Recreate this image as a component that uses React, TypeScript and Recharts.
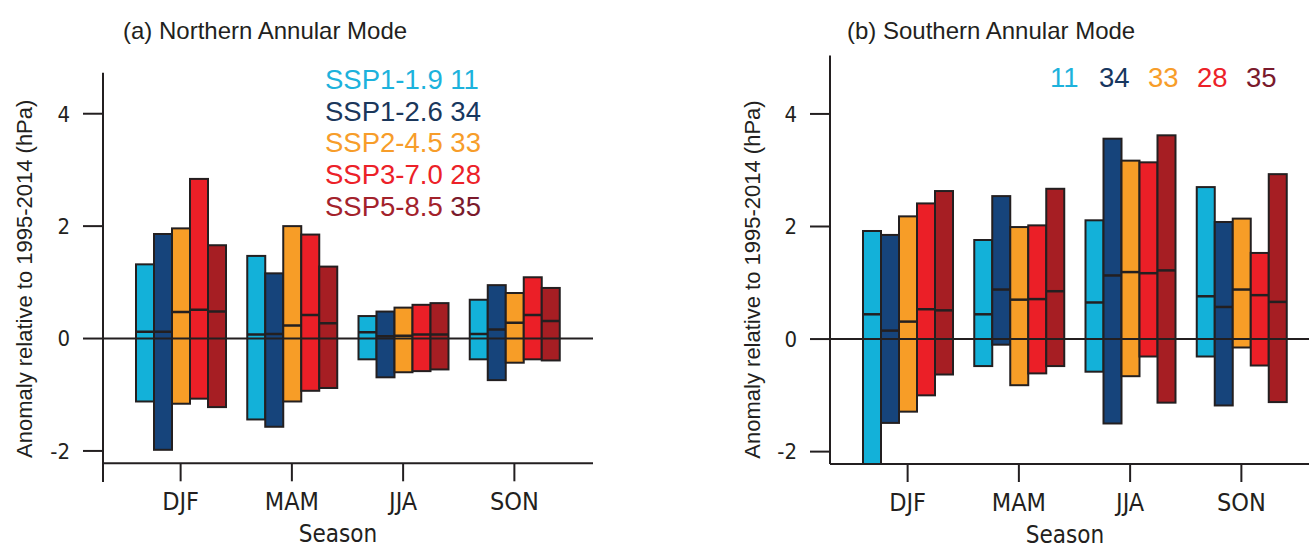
import { BarChart, Bar, XAxis, YAxis, ReferenceLine, Label } from "recharts";

const seasons = ["DJF", "MAM", "JJA", "SON"];
const scenarios = ["SSP1-1.9", "SSP1-2.6", "SSP2-4.5", "SSP3-7.0", "SSP5-8.5"];
const modelCounts = [11, 34, 33, 28, 35];
const yTicks = [-2, 0, 2, 4];

const barColors = ["#13B1D9", "#16447B", "#F79D27", "#EB1F27", "#A61E23"];
const nameColors = ["#1DB2DC", "#1B375B", "#F79D2A", "#EC2128", "#A3222B"];
const countColors = ["#1DB2DC", "#17375F", "#F79D2A", "#EC2128", "#7A1A2C"];

// rows = scenario, columns = season (DJF, MAM, JJA, SON)
const namMin = [
  [-1.12, -1.44, -0.37, -0.37],
  [-1.98, -1.57, -0.69, -0.74],
  [-1.16, -1.12, -0.6, -0.43],
  [-1.07, -0.93, -0.58, -0.37],
  [-1.22, -0.88, -0.55, -0.39],
];
const namMedian = [
  [0.12, 0.07, 0.11, 0.08],
  [0.12, 0.08, 0.04, 0.16],
  [0.47, 0.23, 0.05, 0.28],
  [0.51, 0.42, 0.07, 0.42],
  [0.48, 0.27, 0.07, 0.31],
];
const namMax = [
  [1.32, 1.47, 0.4, 0.69],
  [1.86, 1.16, 0.48, 0.95],
  [1.96, 2.0, 0.55, 0.81],
  [2.84, 1.85, 0.6, 1.09],
  [1.66, 1.28, 0.63, 0.9],
];

const samMin = [
  [-2.3, -0.48, -0.58, -0.31],
  [-1.49, -0.1, -1.5, -1.18],
  [-1.29, -0.82, -0.66, -0.15],
  [-1.0, -0.61, -0.31, -0.47],
  [-0.63, -0.48, -1.13, -1.12],
];
const samMedian = [
  [0.44, 0.44, 0.65, 0.76],
  [0.15, 0.88, 1.13, 0.57],
  [0.31, 0.7, 1.19, 0.88],
  [0.53, 0.71, 1.17, 0.78],
  [0.51, 0.85, 1.22, 0.66],
];
const samMax = [
  [1.92, 1.76, 2.11, 2.7],
  [1.85, 2.54, 3.56, 2.08],
  [2.18, 1.99, 3.17, 2.14],
  [2.41, 2.02, 3.14, 1.53],
  [2.63, 2.67, 3.62, 2.93],
];

const ink = "#231F20";
const sansFont = "'Liberation Sans', Arial, Helvetica, sans-serif";
const narrowFont = "'Liberation Sans Narrow', 'Arial Narrow', 'DejaVu Sans Condensed', sans-serif";

function buildRows(lo: number[][], med: number[][], hi: number[][]) {
  return seasons.map((season, j) => {
    const row: any = { season };
    scenarios.forEach((_, k) => {
      row[`r${k}`] = [lo[k][j], hi[k][j]];
      row[`m${k}`] = med[k][j];
    });
    return row;
  });
}

const namRows = buildRows(namMin, namMedian, namMax);
const samRows = buildRows(samMin, samMedian, samMax);

// floating box with the ensemble median drawn across it
function RangeBox(props: any) {
  const { x, y, width, height, fill, payload, k } = props;
  const [lo, hi] = payload[`r${k}`];
  const med = payload[`m${k}`];
  const top = Math.min(y, y + height);
  const h = Math.abs(height);
  const my = top + (h * (hi - med)) / (hi - lo);
  return (
    <g>
      <rect x={x} y={top} width={width} height={h} fill={fill} stroke={ink} strokeWidth={2} />
      <line x1={x} x2={x + width} y1={my} y2={my} stroke={ink} strokeWidth={2.5} />
    </g>
  );
}

function YTitle({ viewBox }: any) {
  const cx = viewBox.x + viewBox.width - 78;
  const cy = viewBox.y + viewBox.height - 184.5;
  return (
    <text
      x={cx}
      y={cy}
      transform={`rotate(-90 ${cx} ${cy})`}
      textAnchor="middle"
      dominantBaseline="central"
      fill={ink}
      style={{ fontFamily: sansFont, fontSize: 22 }}
    >
      Anomaly relative to 1995-2014 (hPa)
    </text>
  );
}

function XTitle({ viewBox }: any) {
  return (
    <text
      x={viewBox.x + 235}
      y={viewBox.y + 78.5}
      textAnchor="middle"
      fill={ink}
      style={{ fontFamily: narrowFont, fontSize: 24 }}
    >
      Season
    </text>
  );
}

interface PanelProps {
  rows: any[];
  width: number;
  top: number;
  right: number;
  yAxisWidth: number;
  xAxisHeight: number;
  domain: [number, number];
  padRight: number;
}

function Panel({ rows, width, top, right, yAxisWidth, xAxisHeight, domain, padRight }: PanelProps) {
  return (
    <BarChart
      width={width}
      height={547}
      data={rows}
      margin={{ top, right, bottom: 0, left: 0 }}
      barCategoryGap={11}
      barGap={0}
    >
      <XAxis
        dataKey="season"
        height={xAxisHeight}
        padding={{ left: 22, right: padRight }}
        axisLine={{ stroke: ink, strokeWidth: 2 }}
        tickLine={{ stroke: ink, strokeWidth: 2 }}
        tickSize={18}
        tickMargin={11}
        tick={{ fill: ink, fontSize: 25, fontFamily: narrowFont }}
      >
        <Label content={(p: any) => <XTitle viewBox={p.viewBox} />} />
      </XAxis>
      <YAxis
        type="number"
        width={yAxisWidth}
        domain={domain}
        allowDataOverflow
        ticks={yTicks}
        axisLine={{ stroke: ink, strokeWidth: 2 }}
        tickLine={{ stroke: ink, strokeWidth: 2 }}
        tickSize={20}
        tickMargin={13}
        tick={{ fill: ink, fontSize: 22, fontFamily: narrowFont }}
        tickFormatter={(v) => String(v)}
      >
        <Label content={(p: any) => <YTitle viewBox={p.viewBox} />} />
      </YAxis>
      {scenarios.map((s, k) => (
        <Bar
          key={s}
          dataKey={`r${k}`}
          fill={barColors[k]}
          isAnimationActive={false}
          shape={(p: any) => <RangeBox {...p} k={k} />}
        />
      ))}
      <ReferenceLine y={0} stroke={ink} strokeWidth={2} />
    </BarChart>
  );
}

export default function App() {
  return (
    <div
      style={{
        position: "absolute",
        left: 0,
        top: 0,
        width: 1309,
        height: 547,
        background: "#fff",
        overflow: "hidden",
        fontFamily: sansFont,
      }}
    >
      <div style={{ position: "absolute", left: 0, top: 0 }}>
        <Panel
          rows={namRows}
          width={600}
          top={72.7}
          right={7}
          yAxisWidth={103}
          xAxisHeight={83.7}
          domain={[-2.22, 4.73]}
          padRight={23}
        />
      </div>
      <div style={{ position: "absolute", left: 102, top: 463, width: 2, height: 19, background: ink }} />
      <div style={{ position: "absolute", left: 700, top: 0 }}>
        <Panel
          rows={samRows}
          width={609}
          top={55.4}
          right={0}
          yAxisWidth={130}
          xAxisHeight={83}
          domain={[-2.22, 5.04]}
          padRight={12}
        />
      </div>

      <div style={{ position: "absolute", left: 123, top: 19.3, fontSize: 24, lineHeight: "24px", color: ink, whiteSpace: "nowrap" }}>
        (a) Northern Annular Mode
      </div>
      <div style={{ position: "absolute", left: 847, top: 19.3, fontSize: 24, lineHeight: "24px", color: ink, whiteSpace: "nowrap" }}>
        (b) Southern Annular Mode
      </div>

      <div style={{ position: "absolute", left: 325, top: 64.2, fontSize: 27.5, lineHeight: "31.6px", whiteSpace: "nowrap" }}>
        {scenarios.map((s, k) => (
          <div key={s}>
            <span style={{ color: nameColors[k] }}>{s}</span>{" "}
            <span style={{ color: countColors[k] }}>{modelCounts[k]}</span>
          </div>
        ))}
      </div>

      <div style={{ position: "absolute", left: 1050, top: 62.2, fontSize: 27.5, lineHeight: "31.6px", whiteSpace: "nowrap" }}>
        {modelCounts.map((n, k) => (
          <span key={k} style={{ display: "inline-block", width: 49, color: countColors[k] }}>
            {n}
          </span>
        ))}
      </div>
    </div>
  );
}
